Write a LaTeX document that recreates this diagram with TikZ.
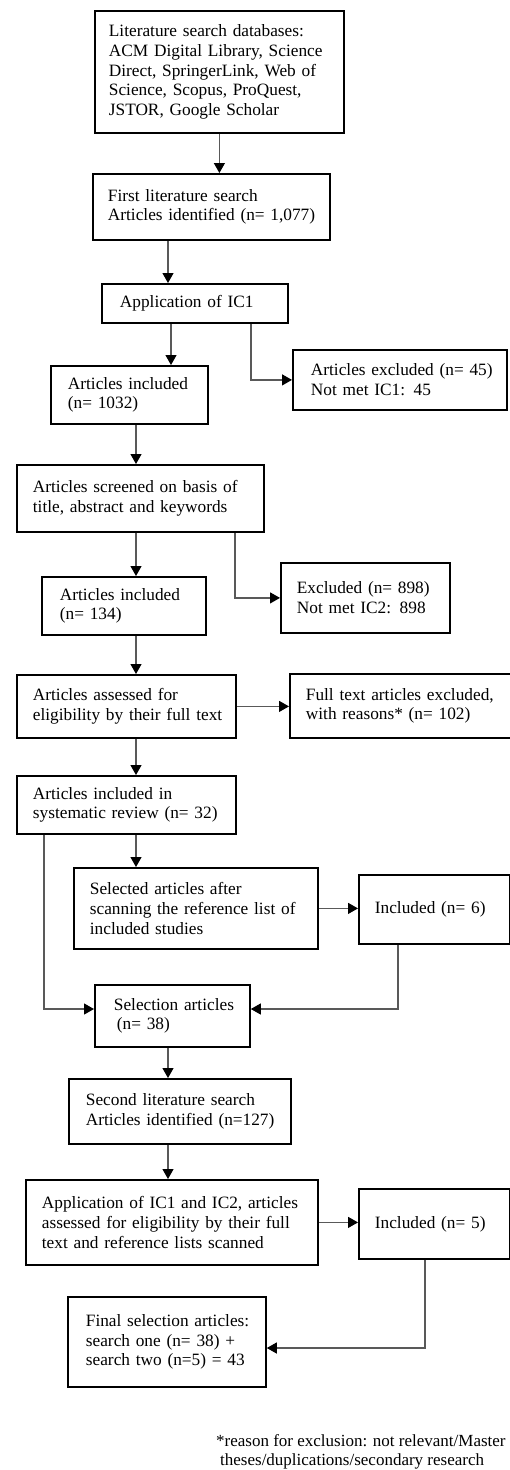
\documentclass[tikz,border=0pt]{standalone}
\usepackage{fontspec}
\setmainfont{Liberation Serif}
\usetikzlibrary{arrows.meta}
\tikzset{
  fbox/.style={draw=black, line width=1.8pt, align=left, anchor=north west,
    inner ysep=0pt, font=\fontsize{17.3pt}{19.8pt}\selectfont},
  arr/.style={draw=black!65, line width=1.2pt,
    -{Triangle[length=10pt,width=11pt,color=black]}},
  foot/.style={anchor=base west, inner sep=0pt, font=\fontsize{17pt}{19.8pt}\selectfont}
}
\begin{document}
\begin{tikzpicture}[x=1pt,y=-1pt]
\fill[white] (0,0) rectangle (510,1470);
\useasboundingbox (0,0) rectangle (510,1470);

\node[fbox, inner xsep=14pt, text width=221pt, minimum height=122pt] (b1) at (94,10)
  {\mbox{Literature search databases:}\\ \mbox{ACM Digital Library, Science}\\ \mbox{Direct, SpringerLink, Web of}\\ \mbox{Science, Scopus, ProQuest,}\\ \mbox{JSTOR, Google Scholar}};
\node[fbox, inner xsep=15pt, text width=207pt, minimum height=66pt] (b2) at (92,173)
  {\mbox{First literature search}\\ \mbox{Articles identified (n= 1,077)}};
\node[fbox, inner xsep=18pt, text width=150pt, minimum height=39pt] (b3) at (101,283)
  {\mbox{Application of IC1}};
\node[fbox, inner xsep=17pt, text width=123pt, minimum height=58pt] (b4) at (50,365)
  {\mbox{Articles included}\\ \mbox{(n= 1032)}};
\node[fbox, inner xsep=18pt, text width=178pt, minimum height=60pt] (b5) at (292,349)
  {\mbox{Articles excluded (n= 45)}\\ \mbox{Not met IC1: 45}};
\node[fbox, inner xsep=16pt, text width=215pt, minimum height=67pt] (b6) at (16,464)
  {\mbox{Articles screened on basis of}\\ \mbox{title, abstract and keywords}};
\node[fbox, inner xsep=18pt, text width=128pt, minimum height=58pt] (b7) at (41,576)
  {\mbox{Articles included}\\ \mbox{(n= 134)}};
\node[fbox, inner xsep=16pt, text width=137pt, minimum height=70pt] (b8) at (280,562)
  {\mbox{Excluded (n= 898)}\\ \mbox{Not met IC2: 898}};
\node[fbox, inner xsep=16pt, text width=187pt, minimum height=63pt] (b9) at (16,674)
  {\mbox{Articles assessed for}\\ \mbox{eligibility by their full text}};
\node[fbox, inner xsep=16pt, text width=194pt, minimum height=64pt] (b10) at (289,673)
  {\mbox{Full text articles excluded,}\\ \mbox{with reasons* (n= 102)}};
\node[fbox, inner xsep=16pt, text width=187pt, minimum height=58pt] (b11) at (16,775)
  {\mbox{Articles included in}\\ \mbox{systematic review (n= 32)}};
\node[fbox, inner xsep=16pt, text width=212pt, minimum height=81pt] (b12) at (73,867)
  {\mbox{Selected articles after}\\ \mbox{scanning the reference list of}\\ \mbox{included studies}};
\node[fbox, inner xsep=16pt, text width=119pt, minimum height=69pt] (b13) at (358,874)
  {\mbox{Included (n= 6)}};
\node[fbox, inner xsep=19pt, text width=117pt, minimum height=62pt] (b14) at (94,984)
  {\mbox{Selection articles}\\ \mbox{\hspace*{3pt}(n= 38)}};
\node[fbox, inner xsep=17pt, text width=188pt, minimum height=65pt] (b15) at (68,1078)
  {\mbox{Second literature search}\\ \mbox{Articles identified (n=127)}};
\node[fbox, inner xsep=16pt, text width=260pt, minimum height=85pt] (b16) at (25,1179)
  {\mbox{Application of IC1 and IC2, articles}\\ \mbox{assessed for eligibility by their full}\\ \mbox{text and reference lists scanned}};
\node[fbox, inner xsep=16pt, text width=119pt, minimum height=70pt] (b17) at (358,1188)
  {\mbox{Included (n= 5)}};
\node[fbox, inner xsep=18pt, text width=162pt, minimum height=90pt] (b18) at (67,1296)
  {\mbox{Final selection articles:}\\ \mbox{search one (n= 38) +}\\ \mbox{search two (n=5) = 43}};

\node[foot] (f1) at (216,1446) {*reason for exclusion: not relevant/Master};
\node[foot] (f2) at (220,1465) {theses/duplications/secondary research};

\coordinate (x44) at (44,0);
\coordinate (x136) at (136,0);
\coordinate (x168) at (168,0);
\coordinate (x171) at (171,0);
\coordinate (x235) at (235,0);
\coordinate (x251) at (251,0);
\coordinate (x398) at (398,0);
\coordinate (x425) at (425,0);
\coordinate (y1009) at (0,1009);
\coordinate (y1348) at (0,1348);

\draw[arr] (b1.south) -- (b1.south |- b2.north);
\draw[arr] (x168 |- b2.south) -- (x168 |- b3.north);
\draw[arr] (x171 |- b3.south) -- (x171 |- b4.north);
\draw[arr] (x251 |- b3.south) |- (b5.west);
\draw[arr] (x136 |- b4.south) -- (x136 |- b6.north);
\draw[arr] (x136 |- b6.south) -- (x136 |- b7.north);
\draw[arr] (x235 |- b6.south) |- (b8.west);
\draw[arr] (x136 |- b7.south) -- (x136 |- b9.north);
\draw[arr] (b9.east) -- (b10.west |- b9.east);
\draw[arr] (x136 |- b9.south) -- (x136 |- b11.north);
\draw[arr] (x136 |- b11.south) -- (x136 |- b12.north);
\draw[arr] (b12.east) -- (b13.west |- b12.east);
\draw[arr] (x44 |- b11.south) |- (b14.west |- y1009);
\draw[arr] (x398 |- b13.south) |- (b14.east |- y1009);
\draw[arr] (x168 |- b14.south) -- (x168 |- b15.north);
\draw[arr] (x168 |- b15.south) -- (x168 |- b16.north);
\draw[arr] (b16.east) -- (b17.west |- b16.east);
\draw[arr] (x425 |- b17.south) |- (b18.east |- y1348);
\end{tikzpicture}
\end{document}
